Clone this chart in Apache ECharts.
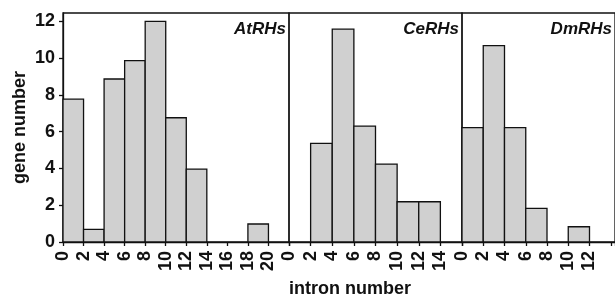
<!DOCTYPE html>
<html>
<head>
  <meta charset="utf-8">
  <title>Intron number histograms</title>
  <script src="https://cdn.jsdelivr.net/npm/echarts@6/dist/echarts.min.js"></script>
  <style>
    html, body { margin: 0; padding: 0; background: #fff; }
  </style>
</head>
<body>
  <div id="main" style="width: 615px;height:298px;"></div>
  <script type="text/javascript">
    var chart = echarts.init(document.getElementById('main'));

    // panel names
    var panels = ['AtRHs', 'CeRHs', 'DmRHs'];

    // bins: [start, end] intron number, and gene counts
    var atBins = [[0, 2], [2, 4], [4, 6], [6, 8], [8, 10], [10, 12], [12, 14], [18, 20]];
    var atCounts = [7.77, 0.69, 8.87, 9.87, 12, 6.76, 3.97, 0.98];

    var ceBins = [[2, 4], [4, 6], [6, 8], [8, 10], [10, 12], [12, 14]];
    var ceCounts = [5.37, 11.58, 6.31, 4.24, 2.19, 2.19];

    var dmBins = [[0, 2], [2, 4], [4, 6], [6, 8], [10, 12]];
    var dmCounts = [6.22, 10.68, 6.22, 1.83, 0.83];

    // x range of each panel and last labelled tick
    var xMax = [22, 16, 14.4];
    var lastLabel = [20, 14, 12];

    var yTicks = [0, 2, 4, 6, 8, 10, 12];

    var font = '"Liberation Sans", Arial, sans-serif';
    var ink = '#111';

    var grids = [
      { left: 63, top: 13, width: 226, height: 229 },
      { left: 289, top: 13, width: 173, height: 229 },
      { left: 462, top: 13, width: 165, height: 229 }
    ];

    function toData(bins, counts) {
      return bins.map(function (b, i) { return [b[0], b[1], counts[i]]; });
    }

    function renderBin(params, api) {
      var p0 = api.coord([api.value(0), api.value(2)]);
      var p1 = api.coord([api.value(1), 0]);
      return {
        type: 'rect',
        shape: { x: p0[0], y: p0[1], width: p1[0] - p0[0], height: p1[1] - p0[1] },
        style: { fill: '#d0d0d0', stroke: ink, lineWidth: 1.3 }
      };
    }

    var allData = [toData(atBins, atCounts), toData(ceBins, ceCounts), toData(dmBins, dmCounts)];

    var option = {
      backgroundColor: '#fff',
      animation: false,
      grid: grids.map(function (g) {
        return Object.assign({ show: true, borderColor: ink, borderWidth: 1.3, backgroundColor: 'transparent' }, g);
      }),
      xAxis: [0, 1, 2].map(function (i) {
        return {
          type: 'value', gridIndex: i, min: 0, max: xMax[i], interval: 2,
          splitLine: { show: false },
          axisLine: { show: true, onZero: false, lineStyle: { color: ink, width: 1.3 } },
          axisTick: { show: true, inside: false, length: 4, lineStyle: { color: ink, width: 1.3 } },
          axisLabel: {
            rotate: 90, margin: 9, color: ink, fontFamily: font, fontWeight: 'bold', fontSize: 18,
            showMaxLabel: true,
            formatter: function (v) { return v <= lastLabel[i] ? String(v) : ''; }
          }
        };
      }),
      yAxis: [0, 1, 2].map(function (i) {
        return {
          type: 'value', gridIndex: i, min: 0, max: 12.46, interval: 2,
          show: i === 0,
          splitLine: { show: false },
          axisLine: { show: true, lineStyle: { color: ink, width: 1.3 } },
          axisTick: { show: true, length: 4, lineStyle: { color: ink, width: 1.3 } },
          axisLabel: {
            color: ink, fontFamily: font, fontWeight: 'bold', fontSize: 18, margin: 8,
            showMaxLabel: false,
            formatter: function (v) { return yTicks.indexOf(v) >= 0 ? String(v) : ''; }
          },
          name: i === 0 ? 'gene number' : '',
          nameLocation: 'middle',
          nameGap: 34,
          nameTextStyle: { color: ink, fontFamily: font, fontWeight: 'bold', fontSize: 18 }
        };
      }),
      series: [0, 1, 2].map(function (i) {
        return {
          type: 'custom', xAxisIndex: i, yAxisIndex: i,
          renderItem: renderBin,
          encode: { x: [0, 1], y: 2 },
          data: allData[i]
        };
      }),
      graphic: [
        { type: 'text', right: 615 - 286, top: 21, style: { text: panels[0], font: 'italic bold 17px ' + font, fill: ink } },
        { type: 'text', right: 615 - 459, top: 21, style: { text: panels[1], font: 'italic bold 17px ' + font, fill: ink } },
        { type: 'text', right: 3, top: 21, style: { text: panels[2], font: 'italic bold 17px ' + font, fill: ink } },
        { type: 'text', left: 289, top: 280, style: { text: 'intron number', font: 'bold 18px ' + font, fill: ink } }
      ]
    };

    chart.setOption(option);
  </script>
</body>
</html>
